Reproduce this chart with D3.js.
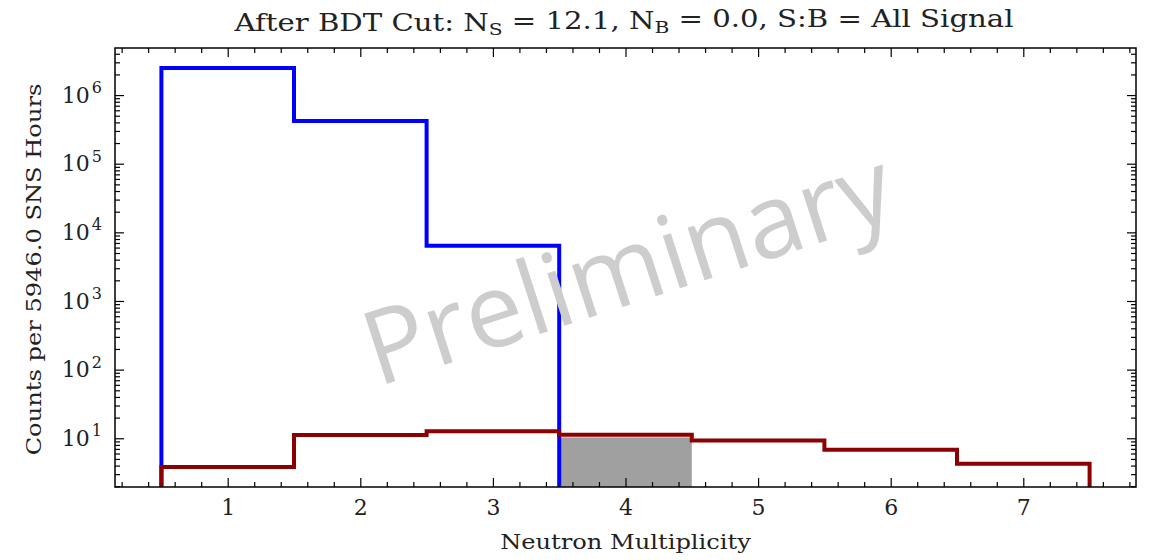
<!DOCTYPE html>
<html>
<head>
<meta charset="utf-8">
<script src="https://cdn.jsdelivr.net/npm/d3@7"></script>
<style>
  body { margin: 0; background: #fff; }
  svg text { font-family: "DejaVu Serif", serif; fill: #222; }
</style>
</head>
<body>
<div id="chart"></div>
<script>
// neutron multiplicity bins (centres) and the counts in each one
var multiplicity = [1, 2, 3, 4, 5, 6, 7];
var backgroundCounts = [2.48e6, 4.2e5, 6.4e3, 0, 0, 0, 0];
var signalCounts = [3.8, 11.2, 12.7, 11.3, 9.25, 6.8, 4.25];
var cutCounts = [0, 0, 0, 10.3, 0, 0, 0];
var xTicks = [1, 2, 3, 4, 5, 6, 7];
var yTicks = [1e1, 1e2, 1e3, 1e4, 1e5, 1e6];

(function() {

    var width = 1153,
        height = 560;
    var margin = {top: 48, right: 17, bottom: 73, left: 115};

    var svg = d3.select("#chart")
        .append("svg")
        .attr("width", width)
        .attr("height", height);

    var x = d3.scaleLinear()
        .domain([0.15, 7.85])
        .range([margin.left, width - margin.right]);
    var y = d3.scaleLog()
        .domain([1.95, 4.85e6])
        .range([height - margin.bottom, margin.top]);

    var bottom = height - margin.bottom,
        top = margin.top,
        left = margin.left,
        right = width - margin.right;

    svg.append("clipPath")
        .attr("id", "plot-clip")
        .append("rect")
        .attr("x", left)
        .attr("y", top)
        .attr("width", right - left)
        .attr("height", bottom - top);

    // build the outline of a step histogram, dropping to the floor at the ends
    function stepPoints(values) {
        var last = -1;
        values.forEach(function(v, i) { if (v > 0) last = i; });
        var first = values.findIndex(function(v) { return v > 0; });
        var pts = [[x(multiplicity[first] - 0.5), bottom + 5]];
        for (var i = first; i <= last; i++) {
            pts.push([x(multiplicity[i] - 0.5), y(values[i])]);
        }
        pts.push([x(multiplicity[last] + 0.5), bottom + 5]);
        return pts;
    }

    var step = d3.line().curve(d3.curveStepAfter);

    var plot = svg.append("g").attr("clip-path", "url(#plot-clip)");

    // grey filled bin selected by the cut
    plot.selectAll(".cut")
        .data(multiplicity.filter(function(d, i) { return cutCounts[i] > 0; }))
        .enter()
        .append("rect")
        .attr("class", "cut")
        .attr("x", function(d) { return x(d - 0.5); })
        .attr("width", function(d) { return x(d + 0.5) - x(d - 0.5); })
        .attr("y", function(d) { return y(cutCounts[multiplicity.indexOf(d)]); })
        .attr("height", function(d) { return bottom - y(cutCounts[multiplicity.indexOf(d)]); })
        .style("fill", "#a0a0a0");

    plot.append("path")
        .attr("d", step(stepPoints(backgroundCounts)))
        .style("fill", "none")
        .style("stroke", "#0000ff")
        .style("stroke-width", 4);

    plot.append("path")
        .attr("d", step(stepPoints(signalCounts)))
        .style("fill", "none")
        .style("stroke", "#8b0000")
        .style("stroke-width", 4);

    // minor tick positions
    var xMinor = d3.range(0.2, 7.81, 0.2).filter(function(v) {
        return Math.abs(v - Math.round(v)) > 1e-6;
    });
    var yMinor = [];
    for (var e = 0; e <= 6; e++) {
        for (var m = 2; m <= 9; m++) {
            var v = m * Math.pow(10, e);
            if (v >= y.domain()[0] && v <= y.domain()[1]) yMinor.push(v);
        }
    }

    function styleAxis(g) {
        g.select(".domain").remove();
        g.selectAll("line").style("stroke", "#000").style("stroke-width", 1.2);
    }

    // bottom axis
    svg.append("g")
        .attr("transform", "translate(0," + bottom + ")")
        .call(d3.axisBottom(x).tickValues(xTicks).tickSize(-9).tickPadding(12).tickFormat(d3.format("d")))
        .call(styleAxis)
        .selectAll("text")
        .style("font-size", "22px");
    svg.append("g")
        .attr("transform", "translate(0," + bottom + ")")
        .call(d3.axisBottom(x).tickValues(xMinor).tickSize(-5).tickFormat(""))
        .call(styleAxis);

    // top axis
    svg.append("g")
        .attr("transform", "translate(0," + top + ")")
        .call(d3.axisTop(x).tickValues(xTicks).tickSize(-9).tickFormat(""))
        .call(styleAxis);
    svg.append("g")
        .attr("transform", "translate(0," + top + ")")
        .call(d3.axisTop(x).tickValues(xMinor).tickSize(-5).tickFormat(""))
        .call(styleAxis);

    // left axis with 10^n labels
    var yAxis = svg.append("g")
        .attr("transform", "translate(" + left + ",0)")
        .call(d3.axisLeft(y).tickValues(yTicks).tickSize(-9).tickPadding(13).tickFormat(""))
        .call(styleAxis);
    yAxis.selectAll(".tick text")
        .style("font-size", "22px")
        .each(function(d) {
            var t = d3.select(this);
            t.append("tspan").text("10");
            t.append("tspan")
                .attr("dx", "2")
                .attr("dy", "-0.6em")
                .style("font-size", "16px")
                .text(Math.round(Math.log10(d)));
        });
    svg.append("g")
        .attr("transform", "translate(" + left + ",0)")
        .call(d3.axisLeft(y).tickValues(yMinor).tickSize(-5).tickFormat(""))
        .call(styleAxis);

    // right axis
    svg.append("g")
        .attr("transform", "translate(" + right + ",0)")
        .call(d3.axisRight(y).tickValues(yTicks).tickSize(-9).tickFormat(""))
        .call(styleAxis);
    svg.append("g")
        .attr("transform", "translate(" + right + ",0)")
        .call(d3.axisRight(y).tickValues(yMinor).tickSize(-5).tickFormat(""))
        .call(styleAxis);

    // frame
    svg.append("rect")
        .attr("x", left)
        .attr("y", top)
        .attr("width", right - left)
        .attr("height", bottom - top)
        .style("fill", "none")
        .style("stroke", "#000")
        .style("stroke-width", 1.5);

    // watermark
    svg.append("text")
        .attr("transform", "translate(" + ((left + right) / 2 + 2) + "," + ((top + bottom) / 2) + ") rotate(-18)")
        .attr("text-anchor", "middle")
        .attr("dy", "0.35em")
        .style("font-family", "'Open Sans', sans-serif")
        .style("font-size", "103px")
        .style("fill", "#cdcdcd")
        .text("Preliminary");

    // title with subscripts (the source glyphs are a little wider than DejaVu)
    var title = svg.append("text")
        .attr("transform", "translate(" + 624 + ",31) scale(1.19,1)")
        .attr("text-anchor", "middle")
        .style("font-size", "24.5px");
    title.append("tspan").text("After BDT Cut: N");
    title.append("tspan").attr("dy", "0.25em").style("font-size", "17px").text("S");
    title.append("tspan").attr("dy", "-0.25em").text(" = 12.1, N");
    title.append("tspan").attr("dy", "0.25em").style("font-size", "17px").text("B");
    title.append("tspan").attr("dy", "-0.25em").text(" = 0.0, S:B = All Signal");

    svg.append("text")
        .attr("transform", "translate(" + ((left + right) / 2) + ",549) scale(1.15,1)")
        .attr("text-anchor", "middle")
        .style("font-size", "21px")
        .text("Neutron Multiplicity");

    svg.append("text")
        .attr("transform", "translate(41," + ((top + bottom) / 2 + 2) + ") rotate(-90) scale(1.15,1)")
        .attr("text-anchor", "middle")
        .style("font-size", "21px")
        .text("Counts per 5946.0 SNS Hours");

})();
</script>
</body>
</html>
